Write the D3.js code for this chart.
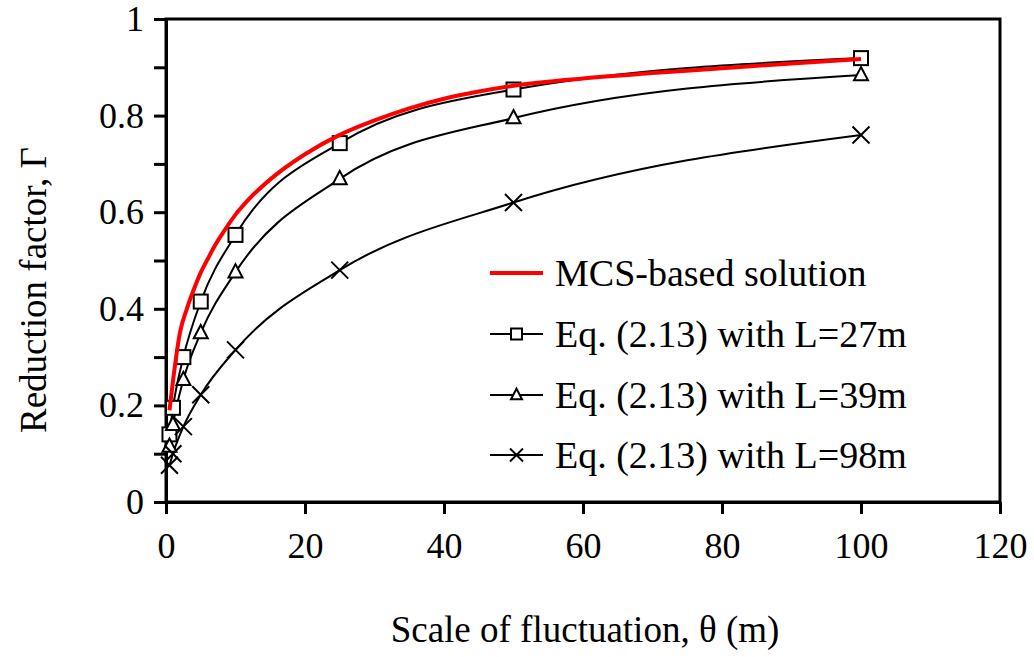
<!DOCTYPE html>
<html>
  <head>
    <meta charset="utf-8" />
    <title>Reduction factor</title>
    <script src="https://cdn.jsdelivr.net/npm/d3@7/dist/d3.min.js"></script>
    <style>
      body { margin: 0; background: #fff; }
      text { font-family: "Liberation Serif", "Times New Roman", serif; fill: #000; }
    </style>
  </head>
  <body>
    <div id="canvas"></div>
  </body>
  <script>
    // MCS-based solution (red line, no markers)
    const mcsTheta = [0.5, 1, 2, 3, 4, 5, 6, 7, 8, 10, 12, 15, 20, 25, 30, 35, 40, 45, 50, 60, 70, 80, 90, 100];
    const mcsGamma = [0.19, 0.25, 0.35, 0.40, 0.44, 0.475, 0.503, 0.53, 0.553, 0.595, 0.628, 0.668, 0.72, 0.76, 0.79, 0.815, 0.835, 0.85, 0.862, 0.877, 0.888, 0.898, 0.908, 0.917];

    // Eq. (2.13) results, same theta for the three L values
    const eqTheta = [0.5, 1, 2.5, 5, 10, 25, 50, 100];
    const gammaL27 = [0.14, 0.195, 0.30, 0.415, 0.553, 0.743, 0.854, 0.919];
    const gammaL39 = [0.115, 0.16, 0.253, 0.35, 0.476, 0.669, 0.795, 0.884];
    const gammaL98 = [0.076, 0.10, 0.156, 0.222, 0.315, 0.48, 0.62, 0.76];

    const xTicks = [0, 20, 40, 60, 80, 100, 120];
    const yTicks = [0, 0.1, 0.2, 0.3, 0.4, 0.5, 0.6, 0.7, 0.8, 0.9, 1];
    const legendLabels = ["MCS-based solution", "Eq. (2.13) with L=27m", "Eq. (2.13) with L=39m", "Eq. (2.13) with L=98m"];

    const width = 1034, height = 657;
    const margin = { left: 166, right: 34, top: 19, bottom: 155 };

    const svg = d3.select("#canvas").append("svg")
      .attr("width", width)
      .attr("height", height);

    const x = d3.scaleLinear().domain([0, 120]).range([margin.left, width - margin.right]);
    const y = d3.scaleLinear().domain([0, 1]).range([height - margin.bottom, margin.top]);

    // frame
    svg.append("rect")
      .attr("x", x(0)).attr("y", y(1))
      .attr("width", x(120) - x(0)).attr("height", y(0) - y(1))
      .attr("fill", "none").attr("stroke", "#000").attr("stroke-width", 3);

    // axes
    const xAxis = svg.append("g")
      .attr("transform", `translate(0,${y(0)})`)
      .call(d3.axisBottom(x).tickValues(xTicks).tickSize(12).tickSizeOuter(0).tickPadding(18).tickFormat(d3.format("d")));
    const yAxis = svg.append("g")
      .attr("transform", `translate(${x(0)},0)`)
      .call(d3.axisLeft(y).tickValues(yTicks).tickSize(12).tickSizeOuter(0).tickPadding(10)
        .tickFormat(d => (Math.round(d * 10) % 2 === 0 ? d3.format("~g")(d) : "")));
    [xAxis, yAxis].forEach(g => {
      g.select(".domain").attr("stroke-width", 3);
      g.selectAll(".tick line").attr("stroke-width", 3);
      g.selectAll(".tick text").attr("font-size", 36).attr("font-family", "Liberation Serif");
    });

    // axis titles
    svg.append("text")
      .attr("x", 585).attr("y", 642)
      .attr("text-anchor", "middle").attr("font-size", 37)
      .text("Scale of fluctuation, θ (m)");
    svg.append("text")
      .attr("transform", `translate(46,${290}) rotate(-90)`)
      .attr("text-anchor", "middle").attr("font-size", 37)
      .text("Reduction factor, Γ");

    const line = d3.line().x(d => x(d[0])).y(d => y(d[1])).curve(d3.curveMonotoneX);

    const series = [
      { vals: gammaL27, marker: "square" },
      { vals: gammaL39, marker: "triangle" },
      { vals: gammaL98, marker: "cross" },
    ];

    function drawMarker(g, type, cx, cy, s) {
      if (type === "square") {
        g.append("rect").attr("x", cx - s / 2).attr("y", cy - s / 2).attr("width", s).attr("height", s)
          .attr("fill", "#fff").attr("stroke", "#000").attr("stroke-width", 2);
      } else if (type === "triangle") {
        const h = s * 0.95;
        g.append("path")
          .attr("d", `M${cx},${cy - h * 0.6}L${cx + s / 2},${cy + h * 0.4}L${cx - s / 2},${cy + h * 0.4}Z`)
          .attr("fill", "#fff").attr("stroke", "#000").attr("stroke-width", 2);
      } else {
        const r = s / 2;
        g.append("path")
          .attr("d", `M${cx - r},${cy - r}L${cx + r},${cy + r}M${cx - r},${cy + r}L${cx + r},${cy - r}`)
          .attr("fill", "none").attr("stroke", "#000").attr("stroke-width", 2);
      }
    }

    const plot = svg.append("g");
    series.forEach(s => {
      const pts = eqTheta.map((t, i) => [t, s.vals[i]]);
      plot.append("path").datum(pts).attr("d", line)
        .attr("fill", "none").attr("stroke", "#000").attr("stroke-width", 2);
    });
    series.forEach(s => {
      const g = plot.append("g");
      eqTheta.forEach((t, i) => drawMarker(g, s.marker, x(t), y(s.vals[i]), s.marker === "cross" ? 17 : 14));
    });

    // MCS red line on top
    plot.append("path")
      .datum(mcsTheta.map((t, i) => [t, mcsGamma[i]]))
      .attr("d", line)
      .attr("fill", "none").attr("stroke", "#ff0000").attr("stroke-width", 4);

    // legend
    const legend = svg.append("g");
    const rowY = [273, 334, 395, 455];
    legendLabels.forEach((lab, i) => {
      const ly = rowY[i];
      legend.append("line").attr("x1", 490).attr("x2", 543).attr("y1", ly).attr("y2", ly)
        .attr("stroke", i === 0 ? "#ff0000" : "#000").attr("stroke-width", i === 0 ? 4 : 2);
      if (i > 0) drawMarker(legend, series[i - 1].marker, 516.5, ly, i === 3 ? 13 : 11);
      legend.append("text").attr("x", 555).attr("y", ly).attr("dy", "0.33em")
        .attr("font-size", 38).text(lab);
    });
  </script>
</html>
